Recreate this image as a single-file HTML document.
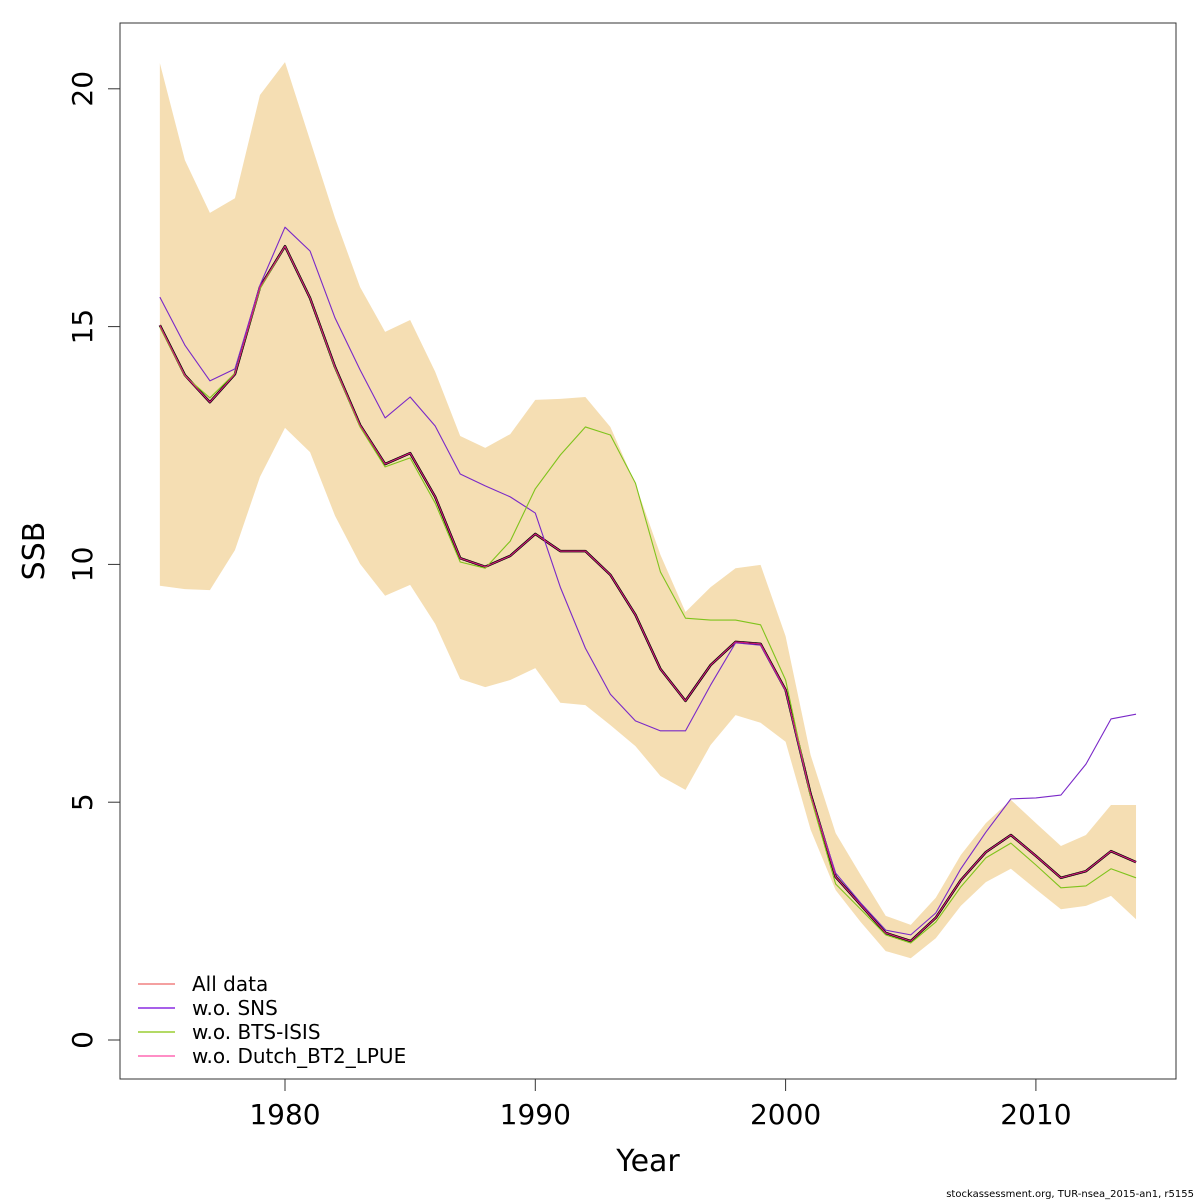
<!DOCTYPE html>
<html><head><meta charset="utf-8"><style>
html,body{margin:0;padding:0;background:#fff;}
svg{display:block;font-family:"DejaVu Sans","Liberation Sans",sans-serif;}
</style></head><body>
<svg id="chart" width="1200" height="1200" viewBox="0 0 1200 1200">
<rect x="0" y="0" width="1200" height="1200" fill="#fff"/>
<g id="band"></g>
<g id="lines"></g>
<rect x="120" y="23" width="1056" height="1056" fill="none" stroke="#333" stroke-width="1"/>
<g id="xaxis"></g>
<g id="yaxis"></g>
<text x="648" y="1171" font-size="30" text-anchor="middle">Year</text>
<text transform="translate(44,551) rotate(-90)" font-size="30" text-anchor="middle">SSB</text>
<g>
 <g><line x1="138" y1="984" x2="175" y2="984" stroke="#f08080" stroke-width="1.5"/><text x="192" y="991" font-size="20">All data</text></g>
 <g><line x1="138" y1="1008" x2="175" y2="1008" stroke="#8a2be2" stroke-width="1.5"/><text x="192" y="1015" font-size="20">w.o. SNS</text></g>
 <g><line x1="138" y1="1032" x2="175" y2="1032" stroke="#9acd32" stroke-width="1.5"/><text x="192" y="1039" font-size="20">w.o. BTS-ISIS</text></g>
 <g><line x1="138" y1="1056" x2="175" y2="1056" stroke="#ff69b4" stroke-width="1.5"/><text x="192" y="1063" font-size="20">w.o. Dutch_BT2_LPUE</text></g>
</g>
<text x="1194" y="1197" font-size="10" text-anchor="end">stockassessment.org, TUR-nsea_2015-an1, r5155</text>
</svg>
<script>
const years=[];for(let y=1975;y<=2014;y++)years.push(y);
const allData=[15.03,13.98,13.41,14.0,15.83,16.69,15.6,14.15,12.93,12.11,12.34,11.42,10.13,9.95,10.18,10.64,10.28,10.28,9.78,8.94,7.8,7.13,7.88,8.37,8.33,7.36,5.17,3.43,2.84,2.25,2.08,2.57,3.36,3.95,4.31,3.87,3.41,3.55,3.97,3.74];
const upper=[20.54,18.5,17.39,17.7,19.87,20.56,18.92,17.28,15.83,14.89,15.14,14.05,12.7,12.45,12.74,13.46,13.48,13.52,12.89,11.69,10.2,9.0,9.52,9.92,9.99,8.49,5.99,4.35,3.47,2.61,2.42,2.99,3.89,4.56,5.05,4.56,4.08,4.31,4.94,4.94];
const lower=[9.55,9.48,9.46,10.3,11.84,12.87,12.36,11.02,10.01,9.34,9.57,8.75,7.59,7.42,7.57,7.82,7.09,7.04,6.62,6.18,5.55,5.26,6.2,6.83,6.67,6.27,4.42,3.15,2.48,1.87,1.72,2.14,2.82,3.32,3.6,3.17,2.75,2.82,3.03,2.54];
const woSNS=[15.62,14.61,13.86,14.11,15.87,17.09,16.59,15.18,14.09,13.08,13.52,12.91,11.9,11.65,11.42,11.08,9.52,8.24,7.27,6.71,6.5,6.5,7.46,8.35,8.3,7.34,5.15,3.51,2.88,2.31,2.21,2.67,3.6,4.37,5.07,5.09,5.15,5.8,6.75,6.85];
const woBTS=[14.99,13.96,13.5,14.02,15.79,16.69,15.6,14.13,12.89,12.05,12.24,11.29,10.05,9.92,10.49,11.59,12.3,12.89,12.72,11.71,9.84,8.87,8.83,8.83,8.73,7.57,5.11,3.28,2.75,2.21,2.04,2.48,3.22,3.83,4.14,3.68,3.2,3.24,3.6,3.41];
const woDutch=[15.02,13.97,13.41,14.0,15.83,16.69,15.6,14.15,12.93,12.11,12.34,11.42,10.13,9.95,10.18,10.64,10.28,10.28,9.78,8.94,7.8,7.13,7.88,8.37,8.33,7.36,5.17,3.43,2.84,2.25,2.08,2.57,3.36,3.95,4.31,3.87,3.41,3.55,3.97,3.74];
const xTicks=[1980,1990,2000,2010];
const yTicks=[0,5,10,15,20];

const NS="http://www.w3.org/2000/svg";
const sx=v=>285+(v-1980)*25.03;
const sy=v=>1040-v*47.56;
function mk(tag,attrs,parent){const e=document.createElementNS(NS,tag);for(const k in attrs)e.setAttribute(k,attrs[k]);parent.appendChild(e);return e;}

const band=document.getElementById('band');
let pts=years.map((y,i)=>sx(y)+','+sy(upper[i]));
pts=pts.concat(years.slice().reverse().map((y,j)=>{const i=years.length-1-j;return sx(y)+','+sy(lower[i]);}));
const poly=mk('polygon',{points:pts.join(' '),fill:'#f5deb3',stroke:'none'},band);



const lines=document.getElementById('lines');
function line(vals,color,w,name){
  const p=mk('polyline',{points:years.map((y,i)=>sx(y)+','+sy(vals[i])).join(' '),fill:'none',stroke:color,'stroke-width':w,'stroke-linejoin':'round'},lines);
  
  
}
line(allData,'#000',2.5,'all-data-bold-line');
line(woSNS,'#7a28c8',1.1,'wo-sns-line');
line(woBTS,'#7fc31c',1.1,'wo-bts-isis-line');
line(allData,'#f08080',1,'all-data-line');
line(woDutch,'#d0107a',1,'wo-dutch-line');

const xa=document.getElementById('xaxis');
mk('line',{x1:sx(1980),y1:1079,x2:sx(2010),y2:1079,stroke:'#333'},xa);
xTicks.forEach(t=>{
  mk('line',{x1:sx(t),y1:1079,x2:sx(t),y2:1091,stroke:'#333'},xa);
  const tx=mk('text',{x:sx(t),y:1124,'font-size':28,'text-anchor':'middle'},xa);
  tx.textContent=t;
  
  
});
const ya=document.getElementById('yaxis');
mk('line',{x1:120,y1:sy(0),x2:120,y2:sy(20),stroke:'#333'},ya);
yTicks.forEach(t=>{
  mk('line',{x1:108,y1:sy(t),x2:120,y2:sy(t),stroke:'#333'},ya);
  const tx=mk('text',{transform:'translate(92,'+sy(t)+') rotate(-90)','font-size':28,'text-anchor':'middle'},ya);
  tx.textContent=t;
  
  
});
</script>
</body></html>
